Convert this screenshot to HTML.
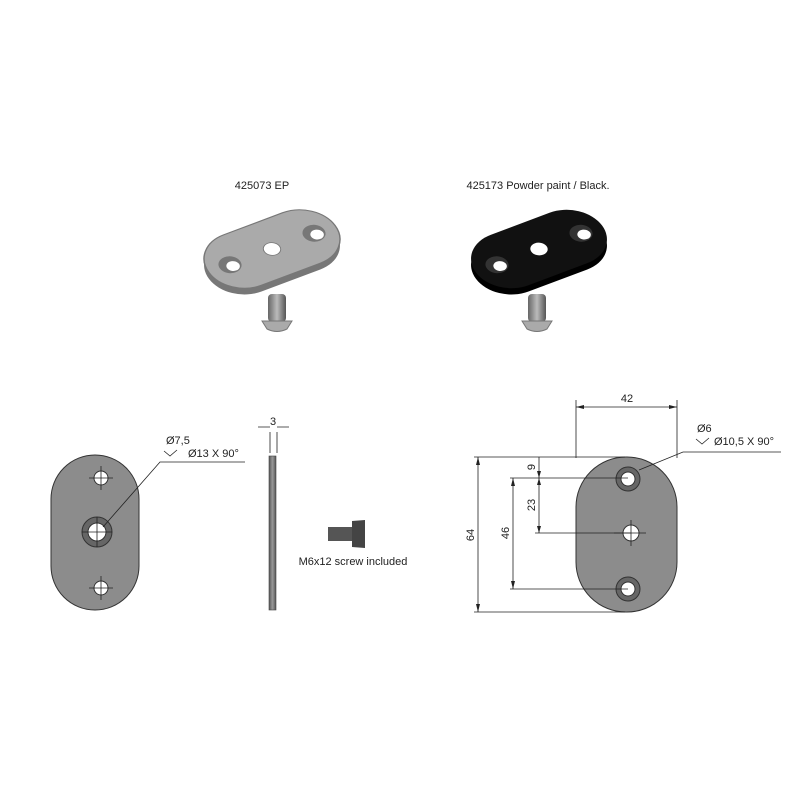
<!DOCTYPE html>
<html><head><style>body{margin:0;background:#fff}svg{display:block}text{font-family:"Liberation Sans",Arial,sans-serif;fill:#222}</style></head><body>
<svg width="800" height="800" viewBox="0 0 800 800">
<defs>
<linearGradient id="scr" x1="0" y1="0" x2="1" y2="0"><stop offset="0" stop-color="#666"/><stop offset=".5" stop-color="#bbb"/><stop offset="1" stop-color="#555"/></linearGradient>
<linearGradient id="bar" x1="0" y1="0" x2="1" y2="0"><stop offset="0" stop-color="#555"/><stop offset=".5" stop-color="#999"/><stop offset="1" stop-color="#555"/></linearGradient>
</defs>
<text x="262" y="189" font-size="11" text-anchor="middle">425073 EP</text>
<text x="538" y="189" font-size="11" text-anchor="middle">425173 Powder paint / Black.</text>
<!-- 3D grey plate -->
<g transform="translate(272,249) scale(1.05)">
<g transform="translate(0,6) matrix(0.8,-0.3,0.45,0.6,0,0)"><rect x="-75" y="-40" width="150" height="80" rx="40" fill="#777"/></g>
<g transform="matrix(0.8,-0.3,0.45,0.6,0,0)">
<rect x="-75" y="-40" width="150" height="80" rx="40" fill="#aaa" stroke="#777" stroke-width="1.5"/>
<circle cx="-50" cy="0" r="12" fill="#777"/><circle cx="-48" cy="3" r="7" fill="#fff"/>
<circle cx="50" cy="0" r="12" fill="#777"/><circle cx="52" cy="3" r="7" fill="#fff"/>
<circle cx="0" cy="0" r="9" fill="#fff" stroke="#777"/>
</g></g>
<rect x="268" y="294" width="18" height="28" rx="4" fill="url(#scr)"/>
<path d="M262 321 L292 321 L287 329 Q277 334 267 329Z" fill="#aaa" stroke="#777"/>
<!-- 3D black plate -->
<g transform="translate(539,249) scale(1.05)">
<g transform="translate(0,6) matrix(0.8,-0.3,0.45,0.6,0,0)"><rect x="-75" y="-40" width="150" height="80" rx="40" fill="#000"/></g>
<g transform="matrix(0.8,-0.3,0.45,0.6,0,0)">
<rect x="-75" y="-40" width="150" height="80" rx="40" fill="#111"/>
<circle cx="-50" cy="0" r="12" fill="#333"/><circle cx="-48" cy="3" r="7" fill="#fff"/>
<circle cx="50" cy="0" r="12" fill="#333"/><circle cx="52" cy="3" r="7" fill="#fff"/>
<circle cx="0" cy="0" r="9" fill="#fff"/>
</g></g>
<rect x="528" y="294" width="18" height="28" rx="4" fill="url(#scr)"/>
<path d="M522 321 L552 321 L547 329 Q537 334 527 329Z" fill="#aaa" stroke="#777"/>
<!-- left plate front -->
<rect x="51" y="455" width="88" height="155" rx="44" fill="#8c8c8c" stroke="#333" stroke-width="1"/>
<circle cx="101" cy="478" r="7" fill="#fff" stroke="#333"/>
<circle cx="101" cy="588" r="7" fill="#fff" stroke="#333"/>
<circle cx="97" cy="532" r="15" fill="#666" stroke="#333"/>
<circle cx="97" cy="532" r="9" fill="#fff" stroke="#333"/>
<g stroke="#222" stroke-width="0.8" fill="none">
<path d="M89 478h24M101 466v24M89 588h24M101 576v24M82 532h30M97 517v30"/>
<path d="M103 527L160 462H245"/>
<path d="M164 451l6 5 7-6"/>
<path d="M270 432v21M277 432v21M258 427h12M277 427h12"/>
</g>
<text x="166" y="444" font-size="11">Ø7,5</text>
<text x="188" y="457" font-size="11">Ø13 X 90°</text>
<text x="273" y="425" font-size="11" text-anchor="middle">3</text>
<rect x="269" y="456" width="7" height="154" fill="url(#bar)" stroke="#444" stroke-width=".6"/>
<!-- screw side -->
<rect x="328" y="527" width="25" height="14" fill="#555"/>
<path d="M352 521 L365 520 L365 548 L352 547Z" fill="#444"/>
<text x="353" y="565" font-size="11" text-anchor="middle">M6x12 screw included</text>
<!-- right plate -->
<rect x="576" y="457" width="101" height="155" rx="50" fill="#8c8c8c" stroke="#333"/>
<circle cx="628" cy="479" r="12" fill="#666" stroke="#333"/><circle cx="628" cy="479" r="7" fill="#fff" stroke="#333"/>
<circle cx="628" cy="589" r="12" fill="#666" stroke="#333"/><circle cx="628" cy="589" r="7" fill="#fff" stroke="#333"/>
<circle cx="631" cy="533" r="8" fill="#fff" stroke="#333"/>
<g stroke="#222" stroke-width="0.8" fill="none">
<path d="M631 520v26M614 533h32"/>
<path d="M576 400v58M677 400v58M576 407h101"/>
<path d="M474 457h151M510 478h118M535 533h96M510 589h118M474 612h151"/>
<path d="M478 457v155M513 478v111M539 457v76"/>
<path d="M639 470L683 452H781"/>
<path d="M696 439l6 5 7-6"/>
</g>
<g fill="#222">
<path d="M576 407l8-2v4zM677 407l-8-2v4zM478 457l-2 8h4zM478 612l-2-8h4zM513 478l-2 8h4zM513 589l-2-8h4zM539 478l-2-7h4zM539 478l-2 7h4zM539 533l-2-7h4z"/>
</g>
<text x="627" y="402" font-size="11" text-anchor="middle">42</text>
<text x="697" y="432" font-size="11">Ø6</text>
<text x="714" y="445" font-size="11">Ø10,5 X 90°</text>
<text transform="translate(474,535) rotate(-90)" font-size="11" text-anchor="middle">64</text>
<text transform="translate(509,533) rotate(-90)" font-size="11" text-anchor="middle">46</text>
<text transform="translate(535,467) rotate(-90)" font-size="11" text-anchor="middle">9</text>
<text transform="translate(535,505) rotate(-90)" font-size="11" text-anchor="middle">23</text>
</svg>
</body></html>
